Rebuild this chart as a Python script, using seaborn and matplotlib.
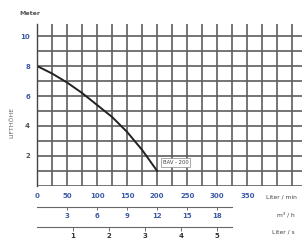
import matplotlib
matplotlib.use("Agg")
import matplotlib.pyplot as plt
import seaborn as sns
import numpy as np
import pandas as pd

# Data
flow_lmin = [0, 25, 50, 75, 100, 125, 150, 175, 200]
head_m = [8.0, 7.5, 6.9, 6.2, 5.4, 4.6, 3.6, 2.4, 1.0]
curve_label = "BAV - 200"
x_ticks_lmin = [0, 50, 100, 150, 200, 250, 300, 350]
x_ticks_m3h = [3, 6, 9, 12, 15, 18]
x_ticks_ls = [1, 2, 3, 4, 5]
y_ticks = [2, 4, 6, 8, 10]

sns.set_style("white")
plt.rcParams['font.family'] = ['DejaVu Sans']

blue = "#3d5aa8"
dark = "#333333"

fig = plt.figure(figsize=(3.02, 2.44), dpi=100)
ax = fig.add_axes([37/302, 58/244, 1 - 37/302, 162/244])

df = pd.DataFrame({"Q": flow_lmin, "H": head_m})
sns.lineplot(data=df, x="Q", y="H", ax=ax, color="#222222", linewidth=1.4)

ax.set_xlim(0, 441)
ax.set_ylim(0, 10.8)
ax.set_xticks(x_ticks_lmin)
ax.set_xticklabels([str(v) for v in x_ticks_lmin], color=blue, fontsize=5, fontweight="bold")
ax.set_yticks(y_ticks)
ylabcolors = {10: blue, 8: blue, 6: blue, 4: "#555555", 2: "#555555"}
ax.set_yticklabels([str(v) for v in y_ticks], fontsize=5, fontweight="bold")
for t, v in zip(ax.get_yticklabels(), y_ticks):
    t.set_color(ylabcolors[v])
ax.set_xticks(np.arange(0, 450, 25), minor=True)
ax.set_yticks(np.arange(0, 11, 1), minor=True)
ax.grid(True, which="both", color="#5e5e5e", linewidth=1.2)
ax.set_axisbelow(True)
ax.tick_params(axis="both", which="both", length=0, pad=5)
for s in ["top", "right", "bottom"]:
    ax.spines[s].set_visible(False)
ax.spines["left"].set_color("#444444")
ax.spines["left"].set_linewidth(1.0)
ax.set_xlabel("")
ax.set_ylabel("LIFTHÖHE", fontsize=4.5, color="#666666")
ax.yaxis.set_label_coords(-0.085, 0.39)

ax.text(-0.065, 1.05, "Meter", transform=ax.transAxes, fontsize=4.5,
        fontweight="bold", color="#555555", ha="left", va="bottom")

# curve label
ax.annotate(curve_label, xy=(flow_lmin[-1], head_m[-1]), xytext=(4, 5),
            textcoords="offset points", fontsize=3.8, color="#444444",
            bbox=dict(boxstyle="square,pad=0.3", fc="white", ec="#888888", lw=0.5))

# secondary axes
sec1 = ax.secondary_xaxis(-0.13, functions=(lambda q: q * 0.06, lambda m: m / 0.06))
sec1.set_xticks(x_ticks_m3h)
sec1.set_xticklabels([str(v) for v in x_ticks_m3h], color=blue, fontsize=5, fontweight="bold")
sec1.tick_params(length=2, width=0.6, pad=2, color="#555555")
sec1.spines["bottom"].set_color("#666666")
sec1.spines["bottom"].set_linewidth(0.8)
sec1.spines["bottom"].set_bounds(0, 19.5)

sec2 = ax.secondary_xaxis(-0.253, functions=(lambda q: q / 60.0, lambda s: s * 60.0))
sec2.set_xticks(x_ticks_ls)
sec2.set_xticklabels([str(v) for v in x_ticks_ls], color=dark, fontsize=5, fontweight="bold")
sec2.tick_params(length=3, width=0.6, pad=1.5, color="#555555")
sec2.spines["bottom"].set_color("#666666")
sec2.spines["bottom"].set_linewidth(0.8)
sec2.spines["bottom"].set_bounds(0, 5.4)

# unit labels on the right
ax.text(0.865, -0.065, "Liter / min", transform=ax.transAxes, fontsize=4.3,
        color="#444444", ha="left", va="center", clip_on=False)
ax.text(0.905, -0.175, "m³ / h", transform=ax.transAxes, fontsize=4.3,
        color="#444444", ha="left", va="center", clip_on=False)
ax.text(0.885, -0.285, "Liter / s", transform=ax.transAxes, fontsize=4.3,
        color="#444444", ha="left", va="center", clip_on=False)

fig.savefig("out.png", dpi=100)
